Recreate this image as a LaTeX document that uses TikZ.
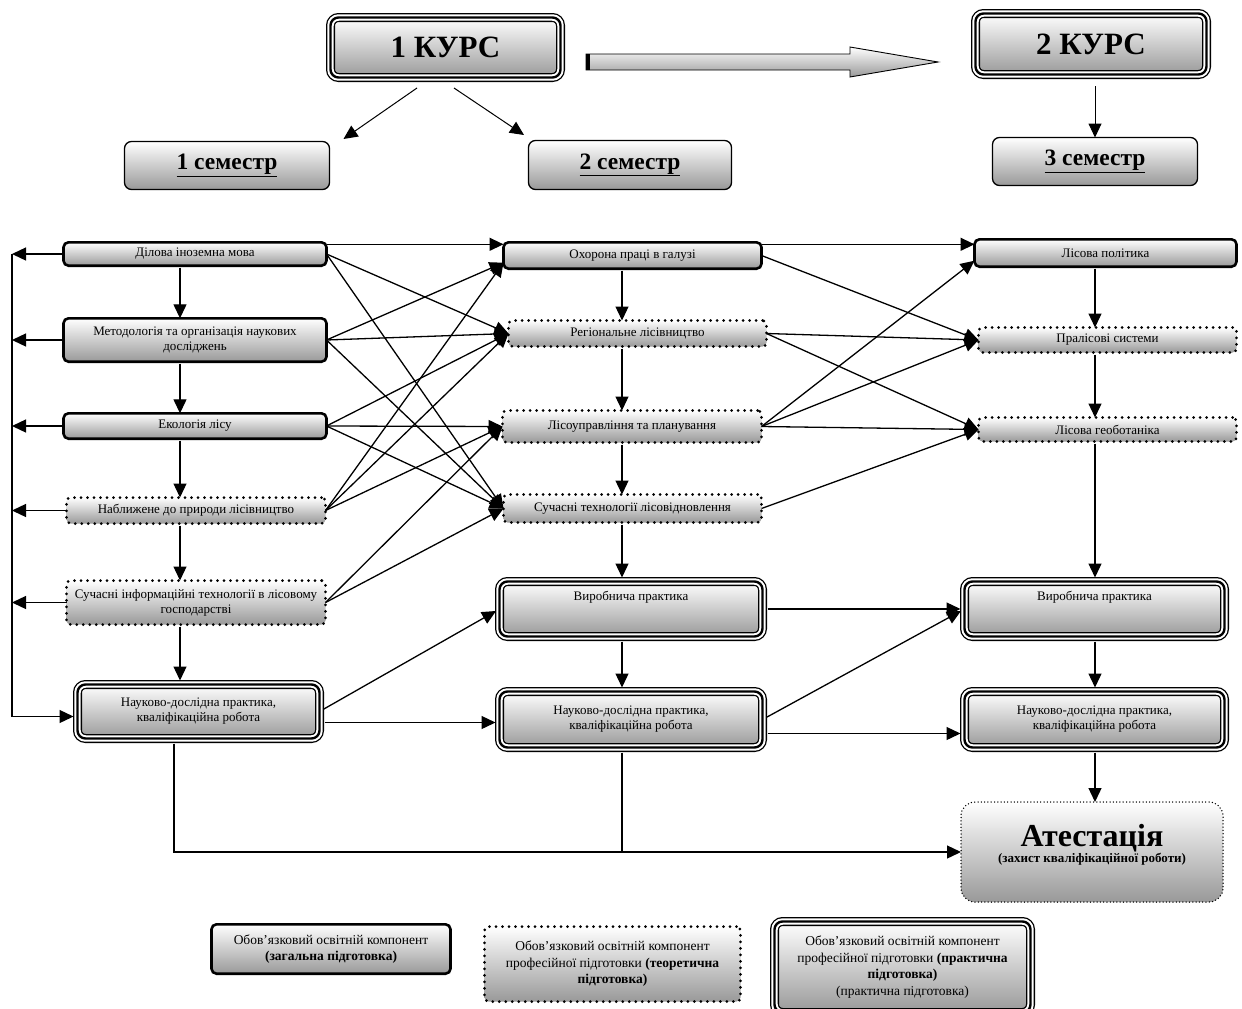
\documentclass[tikz,border=0pt]{standalone}
\usepackage{fontspec}
\setmainfont{Liberation Serif}
\usetikzlibrary{arrows.meta,calc,positioning}
\tikzset{
    plan/.style={>={Triangle[length=14pt,width=13pt]},line width=1.3pt,
                 x=1pt,y=-1pt,font=\fontsize{13}{15}\selectfont},
    shaded/.style={top color=white,bottom color=black!40,outer sep=0pt,align=center},
    general/.style={shaded,draw,line width=2.6pt,rounded corners=5pt},
    theory/.style={shaded,draw,line width=3pt,dash pattern=on 0pt off 6.5pt,
                   line cap=round,rounded corners=4pt},
    practice/.style={shaded,draw,line width=9pt,rounded corners=8pt,
                     postaction={draw=white,line width=6.4pt},
                     postaction={draw=black,line width=2.4pt}},
    semester/.style={shaded,draw,line width=1.3pt,rounded corners=7pt,
                     font=\fontsize{23.5}{25}\selectfont\bfseries},
    course/.style={practice,font=\fontsize{31}{33}\selectfont\bfseries},
    atest/.style={shaded,draw,line width=1.5pt,dash pattern=on 0pt off 3.3pt,
                  line cap=round,rounded corners=14pt},
    legend/.style={font=\fontsize{13.5}{16.5}\selectfont},
    topract/.style={shorten >=4pt},
    frompract/.style={shorten <=5pt},
    }
\begin{document}
\begin{tikzpicture}[plan]
    \useasboundingbox (0,0) rectangle (1242,1009);

    % courses and semesters
    \node[course, minimum width=230pt, minimum height=60pt] (kurs1) at (445.5,47.5) {1 КУРС};
    \node[course, minimum width=231pt, minimum height=61pt] (kurs2) at (1091,44) {2 КУРС};
    \node[semester, minimum width=205pt, minimum height=48pt] (sem1) at (227,165.5) {\underline{1 семестр}};
    \node[semester, minimum width=203pt, minimum height=49pt] (sem2) at (630,165) {\underline{2 семестр}};
    \node[semester, minimum width=205pt, minimum height=48pt] (sem3) at (1095,161.5) {\underline{3 семестр}};

    % 1 semester
    \node[general, minimum width=263pt, minimum height=23.4pt] (l1) at (195,254) {Ділова іноземна мова};
    \node[general, minimum width=263pt, minimum height=43.4pt] (l2) at (195,340) {Методологія та організація наукових\\досліджень};
    \node[general, minimum width=263pt, minimum height=25.4pt] (l3) at (195,426) {Екологія лісу};
    \node[theory, minimum width=259pt, minimum height=26pt] (l4) at (196,510.5) {Наближене до природи лісівництво};
    \node[theory, minimum width=259pt, minimum height=44pt] (l5) at (196,602.5) {Сучасні інформаційні технології в лісовому\\господарстві};
    \node[practice, minimum width=242pt, minimum height=54pt] (l6) at (198.5,711.5) {Науково-дослідна практика,\\кваліфікаційна робота};

    % 2 semester
    \node[general, minimum width=258pt, minimum height=26.4pt] (m1) at (632.5,255.5) {Охорона праці в галузі};
    \node[theory, minimum width=258pt, minimum height=26pt] (m2) at (637.5,333.5) {Регіональне лісівництво};
    \node[theory, minimum width=259pt, minimum height=32pt] (m3) at (632,426.5) {Лісоуправління та планування};
    \node[theory, minimum width=258pt, minimum height=28pt] (m4) at (632.5,508.5) {Сучасні технології лісовідновлення};
    \node[practice, minimum width=263pt, minimum height=55pt, text depth=26pt] (m5) at (631,609) {Виробнича практика};
    \node[practice, minimum width=263pt, minimum height=56pt] (m6) at (631,719.5) {Науково-дослідна практика,\\кваліфікаційна робота};

    % 3 semester
    \node[general, minimum width=262pt, minimum height=27.4pt] (r1) at (1105.5,253) {Лісова політика};
    \node[theory, minimum width=258pt, minimum height=25pt] (r2) at (1107.5,340) {Пралісові системи};
    \node[theory, minimum width=258pt, minimum height=24pt] (r3) at (1107.5,429.5) {Лісова геоботаніка};
    \node[practice, minimum width=260pt, minimum height=55pt, text depth=26pt] (r4) at (1094.5,609) {Виробнича практика};
    \node[practice, minimum width=260pt, minimum height=56pt] (r5) at (1094.5,719.5) {Науково-дослідна практика,\\кваліфікаційна робота};
    \node[atest, minimum width=262pt, minimum height=100pt] (r6) at (1092,852)
        {\parbox[c][56pt][t]{254pt}{\centering{\fontsize{32}{34}\selectfont\bfseries Атестація}\\[1pt]
         {\fontsize{13}{15}\selectfont\bfseries (захист кваліфікаційної роботи)}}};

    % legend
    \node[general, legend, minimum width=239pt, minimum height=49.4pt] (leg1) at (331,949)
        {Обов’язковий освітній компонент\\\textbf{(загальна підготовка)}};
    \node[theory, legend, minimum width=256pt, minimum height=75pt] (leg2) at (612.5,964)
        {Обов’язковий освітній компонент\\професійної підготовки \textbf{(теоретична}\\\textbf{підготовка)}};
    \node[practice, legend, minimum width=256pt, minimum height=91pt] (leg3) at (902.5,967)
        {Обов’язковий освітній компонент\\професійної підготовки \textbf{(практична}\\\textbf{підготовка)}\\(практична підготовка)};

    % course arrows
    \draw[top color=white, bottom color=black!40, line width=0.9pt]
        (586,54) -- (850,54) -- (850,47) -- (938,62) -- (850,77) -- (850,70) -- (586,70) -- cycle;
    \draw[line width=3.5pt] (588,54) -- (588,70);
    \draw[->, line width=1pt] ([xshift=-28.5pt,yshift=-10.5pt]kurs1.south) -- ([xshift=14pt,yshift=2.5pt]sem1.north east);
    \draw[->, line width=1pt] ([xshift=8.5pt,yshift=-10.5pt]kurs1.south) -- ([xshift=-4.5pt,yshift=5.5pt]sem2.north west);
    \draw[->, line width=1pt] ([xshift=4pt,yshift=-11.5pt]kurs2.south) -- (sem3.north);

    % columns
    \coordinate (coll) at (180,0);
    \coordinate (colm) at (622,0);
    \coordinate (colr) at (1095,0);
    \coordinate (colb) at (174,0);
    \coordinate (rail) at (12,0);
    \foreach \a/\b/\c in {l1/l2/coll,l2/l3/coll,l3/l4/coll,l4/l5/coll,m1/m2/colm,m2/m3/colm,m3/m4/colm,r1/r2/colr,r2/r3/colr}
        \draw[->, shorten <=2pt] (\a.south -| \c) -- (\b.north -| \c);
    \foreach \a/\b/\c in {l5/l6/coll,m4/m5/colm,r3/r4/colr}
        \draw[->, shorten <=2pt, topract] (\a.south -| \c) -- (\b.north -| \c);
    \foreach \a/\b/\c in {m5/m6/colm,r4/r5/colr}
        \draw[->, frompract, topract] (\a.south -| \c) -- (\b.north -| \c);
    \draw[->, frompract] (r5.south -| colr) -- (r6.north -| colr);

    % left rail
    \foreach \n in {l1,l2,l3,l4,l5}
        \draw[->] (\n.west) -- (\n.west -| rail);
    \draw[->, topract] (l1.west -| rail) |- ([yshift=-5pt]l6.west);

    % links between semesters
    \draw[->] ([yshift=-2pt]l1.north east) -- ([yshift=-2pt]m1.north west);
    \draw[->] ([yshift=-2pt]m1.north east) -- ([yshift=-5pt]r1.north west);
    \foreach \a/\b in {l1/m2,l1/m4,l2/m2,l2/m4,l3/m2,l3/m3,l3/m4,l4/m2,l4/m3,l5/m3,l5/m4,m1/r2,m2/r2,m2/r3,m3/r2,m3/r3,m4/r3}
        \draw[->] (\a.east) -- (\b.west);
    \foreach \a/\b in {l2/m1,l4/m1,m3/r1}
        \draw[->] (\a.east) -- ([yshift=6pt]\b.south west);
    \draw[->, frompract, topract] (l6.east) -- (m5.west);
    \draw[->, frompract, topract] (m5.east) -- (r4.west);
    \draw[->, frompract, topract] (m6.east) -- (r4.west);
    \draw[->, frompract, topract] ([yshift=-11pt]l6.east) -- ([yshift=-3pt]m6.west);
    \draw[->, frompract, topract] ([yshift=-14pt]m6.east) -- ([yshift=-14pt]r5.west);

    % to attestation
    \draw[->, frompract] (l6.south -| colb) |- (r6.west);
    \draw[frompract] (m6.south -| colm) -- (r6.west -| colm);
\end{tikzpicture}
\end{document}
